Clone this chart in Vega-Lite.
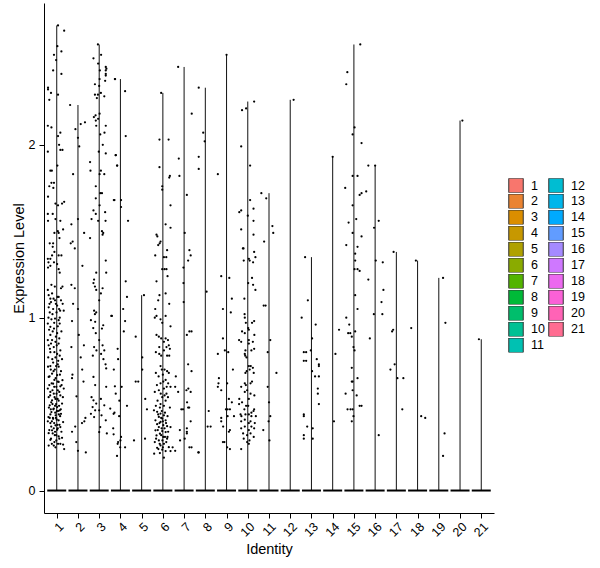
{
  "$schema": "https://vega.github.io/schema/vega-lite/v6.json",
  "description": "Violin plot of expression level by identity, with jittered cells.",
  "width": 450,
  "height": 510,
  "autosize": {"type": "none"},
  "padding": {"left": 44, "top": 3, "right": 106, "bottom": 55},
  "background": "white",
  "config": {
    "view": {"stroke": null},
    "font": "Liberation Sans",
    "axis": {
      "grid": false,
      "domainColor": "black",
      "domainWidth": 1,
      "tickColor": "black",
      "tickWidth": 1,
      "tickSize": 5,
      "labelColor": "black",
      "titleColor": "black",
      "labelFont": "Liberation Sans",
      "titleFont": "Liberation Sans",
      "labelFontSize": 12.5,
      "titleFontSize": 14.5,
      "titleFontWeight": "normal",
      "labelOverlap": false,
      "labelFlush": false
    }
  },
  "datasets": {
    "clusters": [
      {"cluster": 1, "min": 0, "max": 2.69}, {"cluster": 2, "min": 0, "max": 2.23}, {"cluster": 3, "min": 0, "max": 2.58},
      {"cluster": 4, "min": 0, "max": 2.38}, {"cluster": 5, "min": 0, "max": 1.13}, {"cluster": 6, "min": 0, "max": 2.30},
      {"cluster": 7, "min": 0, "max": 2.45}, {"cluster": 8, "min": 0, "max": 2.33}, {"cluster": 9, "min": 0, "max": 2.52},
      {"cluster": 10, "min": 0, "max": 2.25}, {"cluster": 11, "min": 0, "max": 1.72}, {"cluster": 12, "min": 0, "max": 2.26},
      {"cluster": 13, "min": 0, "max": 1.35}, {"cluster": 14, "min": 0, "max": 1.93}, {"cluster": 15, "min": 0, "max": 2.58},
      {"cluster": 16, "min": 0, "max": 1.88}, {"cluster": 17, "min": 0, "max": 1.38}, {"cluster": 18, "min": 0, "max": 1.33},
      {"cluster": 19, "min": 0, "max": 1.23}, {"cluster": 20, "min": 0, "max": 2.14}, {"cluster": 21, "min": 0, "max": 0.875}
    ],
    "cells": [
      {"x":1.06,"y":2.69},{"x":1.35,"y":2.66},{"x":1.03,"y":2.57},{"x":1.22,"y":2.54},{"x":0.87,"y":2.52},{"x":0.97,"y":2.49},{"x":0.83,"y":2.43},{"x":1.22,"y":2.41},{"x":0.59,"y":2.33},{"x":0.59,"y":2.32},{"x":0.73,"y":2.30},{"x":1.06,"y":2.29},{"x":0.65,"y":2.26},{"x":0.58,"y":2.11},{"x":0.75,"y":2.10},{"x":1.06,"y":2.05},{"x":1.17,"y":2.07},{"x":1.11,"y":2.00},{"x":1.27,"y":1.97},{"x":1.17,"y":1.97},{"x":0.58,"y":1.96},{"x":1.03,"y":1.88},{"x":0.70,"y":1.85},{"x":0.77,"y":1.85},{"x":0.87,"y":1.78},{"x":0.75,"y":1.78},{"x":0.65,"y":1.76},{"x":0.84,"y":1.75},{"x":0.59,"y":1.70},{"x":0.94,"y":1.66},{"x":1.25,"y":1.66},{"x":1.06,"y":1.65},{"x":1.35,"y":1.67},{"x":0.58,"y":1.60},{"x":0.81,"y":1.60},{"x":0.94,"y":1.57},{"x":1.17,"y":1.56},{"x":0.59,"y":1.56},{"x":1.05,"y":1.50},{"x":1.09,"y":1.49},{"x":1.30,"y":1.51},{"x":0.89,"y":1.49},{"x":1.13,"y":1.46},
      {"x":0.67,"y":1.43},{"x":0.83,"y":1.43},{"x":0.81,"y":1.41},{"x":0.89,"y":1.38},{"x":0.78,"y":1.36},{"x":1.09,"y":1.36},{"x":1.22,"y":1.36},{"x":0.58,"y":1.34},{"x":0.70,"y":1.34},{"x":0.61,"y":1.32},{"x":0.87,"y":1.32},{"x":1.02,"y":1.31},{"x":0.59,"y":1.29},{"x":0.70,"y":1.30},{"x":1.09,"y":1.28},{"x":1.14,"y":1.26},{"x":0.75,"y":1.19},{"x":0.91,"y":1.18},{"x":0.58,"y":1.16},{"x":1.27,"y":1.18},{"x":1.20,"y":1.17},{"x":0.62,"y":1.13},{"x":0.78,"y":1.14},{"x":0.70,"y":1.11},{"x":0.92,"y":1.10},{"x":1.09,"y":1.12},{"x":1.20,"y":1.10},{"x":1.28,"y":1.08},{"x":1.02,"y":1.07},{"x":0.62,"y":1.06},{"x":0.83,"y":1.05},{"x":1.11,"y":1.05},{"x":1.33,"y":1.04},{"x":0.67,"y":1.03},{"x":0.80,"y":1.02},{"x":0.61,"y":1.00},{"x":0.92,"y":0.995},{"x":1.09,"y":0.985},{"x":1.14,"y":1.00},{"x":0.58,"y":0.966},{"x":0.70,"y":0.947},{"x":0.87,"y":0.937},{"x":1.14,"y":0.966},{"x":1.02,"y":0.91},{"x":0.70,"y":0.90},{"x":0.58,"y":0.87},{"x":0.78,"y":0.87},{"x":0.94,"y":0.86},{"x":0.62,"y":0.84},{"x":0.86,"y":0.83},{"x":1.09,"y":0.85},{"x":1.17,"y":0.81},{"x":1.02,"y":0.79},{"x":0.70,"y":0.80},{"x":0.94,"y":0.77},{"x":1.25,"y":0.76},{"x":0.83,"y":0.74},{"x":1.05,"y":0.73},{"x":0.59,"y":0.716},{"x":0.70,"y":0.72},{"x":0.91,"y":0.70},{"x":1.09,"y":0.716},{"x":1.20,"y":0.69},{"x":0.78,"y":0.676},{"x":1.02,"y":0.667},{"x":0.62,"y":0.657},{"x":0.89,"y":0.64},{"x":1.27,"y":0.638},{"x":1.09,"y":0.628},{"x":0.83,"y":0.618},{"x":0.65,"y":0.61},{"x":0.98,"y":0.60},{"x":1.17,"y":0.603},{"x":1.33,"y":0.59},{"x":0.70,"y":0.57},{"x":0.86,"y":0.56},{"x":1.05,"y":0.58},{"x":1.17,"y":0.55},{"x":0.62,"y":0.54},{"x":0.94,"y":0.53},{"x":0.78,"y":0.522},{"x":1.09,"y":0.52},{"x":1.25,"y":0.503},{"x":0.67,"y":0.493},{"x":1.02,"y":0.483},{"x":0.86,"y":0.474},{"x":1.14,"y":0.464},{"x":0.75,"y":0.454},{"x":1.20,"y":0.444},{"x":0.95,"y":0.435},{"x":0.61,"y":0.425},{"x":0.83,"y":0.415},{"x":1.09,"y":0.406},{"x":1.30,"y":0.396},{"x":0.70,"y":0.39},{"x":0.94,"y":0.377},{"x":1.17,"y":0.367},{"x":1.02,"y":0.352},{"x":0.78,"y":0.348},{"x":0.62,"y":0.332},{"x":0.91,"y":0.32},{"x":1.09,"y":0.313},{"x":1.25,"y":0.305},{"x":0.70,"y":0.293},{"x":0.98,"y":0.29},{"x":1.17,"y":0.27},{"x":1.30,"y":0.266},{"x":0.62,"y":0.26},{"x":0.86,"y":0.26},
      {"x":0.73,"y":1.09},{"x":0.96,"y":1.08},{"x":1.04,"y":1.12},{"x":0.85,"y":1.11},{"x":0.66,"y":1.08},{"x":0.99,"y":1.03},{"x":1.16,"y":1.04},{"x":0.75,"y":0.99},{"x":0.88,"y":0.97},{"x":1.05,"y":0.95},{"x":0.64,"y":0.93},{"x":0.81,"y":0.92},{"x":1.22,"y":0.92},{"x":0.96,"y":0.89},{"x":1.12,"y":0.88},{"x":0.73,"y":0.85},{"x":1.00,"y":0.84},{"x":0.68,"y":0.82},{"x":0.89,"y":0.80},{"x":1.14,"y":0.78},{"x":0.60,"y":0.77},{"x":0.79,"y":0.76},{"x":1.07,"y":0.75},{"x":0.97,"y":0.72},{"x":0.72,"y":0.70},{"x":0.85,"y":0.69},{"x":1.15,"y":0.67},{"x":0.66,"y":0.66},{"x":0.95,"y":0.65},{"x":1.05,"y":0.63},{"x":0.76,"y":0.62},{"x":0.88,"y":0.60},{"x":1.23,"y":0.61},{"x":0.58,"y":0.59},{"x":0.80,"y":0.58},{"x":0.99,"y":0.56},{"x":1.12,"y":0.57},{"x":0.69,"y":0.55},{"x":0.90,"y":0.54},{"x":1.04,"y":0.53},{"x":1.29,"y":0.54},{"x":0.74,"y":0.51},{"x":0.97,"y":0.50},{"x":1.11,"y":0.49},{"x":0.63,"y":0.48},{"x":0.84,"y":0.47},{"x":1.07,"y":0.46},{"x":0.93,"y":0.45},{"x":0.70,"y":0.44},{"x":1.16,"y":0.43},{"x":0.82,"y":0.42},{"x":1.00,"y":0.41},{"x":0.58,"y":0.40},{"x":0.88,"y":0.39},{"x":1.13,"y":0.38},{"x":0.74,"y":0.37},{"x":1.05,"y":0.36},{"x":0.65,"y":0.35},{"x":0.92,"y":0.34},{"x":1.22,"y":0.34},{"x":0.81,"y":0.33},{"x":0.98,"y":0.32},{"x":1.12,"y":0.30},{"x":0.73,"y":0.30},{"x":0.89,"y":0.28},{"x":1.06,"y":0.27},{"x":0.77,"y":0.27},{"x":0.94,"y":0.25},{"x":1.35,"y":0.24},{"x":1.10,"y":0.44},{"x":0.96,"y":0.42},{"x":0.77,"y":0.40},{"x":1.03,"y":0.38},{"x":0.86,"y":0.36},{"x":0.67,"y":0.42},{"x":1.19,"y":0.47},{"x":0.92,"y":0.49},{"x":0.80,"y":0.50},{"x":1.01,"y":0.46},{"x":0.72,"y":0.47},
      {"x":1.63,"y":2.23},{"x":1.88,"y":2.09},{"x":2.13,"y":2.12},{"x":2.33,"y":2.13},{"x":1.77,"y":1.83},{"x":1.69,"y":1.54},{"x":2.29,"y":1.49},{"x":2.00,"y":1.57},{"x":2.00,"y":2.04},{"x":2.06,"y":1.99},{"x":2.57,"y":1.46},{"x":2.57,"y":1.90},{"x":2.59,"y":1.85},
      {"x":1.66,"y":1.43},{"x":1.75,"y":1.44},{"x":1.85,"y":1.40},{"x":2.21,"y":1.30},{"x":1.69,"y":1.19},{"x":1.85,"y":1.17},{"x":1.77,"y":1.08},{"x":2.00,"y":1.05},{"x":1.72,"y":0.98},{"x":2.04,"y":0.90},{"x":2.28,"y":0.84},{"x":1.69,"y":0.83},{"x":2.13,"y":0.77},{"x":2.20,"y":0.70},{"x":1.74,"y":0.67},{"x":1.72,"y":0.65},{"x":2.26,"y":0.63},{"x":1.93,"y":0.545},{"x":1.87,"y":0.37},{"x":1.72,"y":0.34},{"x":2.19,"y":0.39},{"x":2.30,"y":0.40},{"x":2.35,"y":0.42},{"x":1.92,"y":0.28},{"x":2.00,"y":0.23},{"x":2.37,"y":0.22},
      {"x":2.94,"y":2.58},{"x":3.09,"y":2.52},{"x":2.73,"y":2.50},{"x":2.95,"y":2.47},{"x":3.31,"y":2.45},{"x":3.34,"y":2.44},{"x":3.31,"y":2.43},{"x":3.31,"y":2.41},{"x":3.31,"y":2.40},{"x":3.03,"y":2.43},{"x":3.02,"y":2.38},{"x":2.80,"y":2.35},{"x":3.28,"y":2.37},{"x":3.74,"y":2.38},{"x":3.00,"y":2.34},{"x":3.08,"y":2.30},{"x":2.94,"y":2.29},{"x":2.80,"y":2.29},{"x":3.24,"y":2.28},{"x":2.89,"y":2.27},{"x":3.02,"y":2.18},{"x":2.83,"y":2.17},{"x":2.75,"y":2.16},{"x":2.95,"y":2.15},{"x":2.84,"y":2.14},{"x":2.86,"y":2.11},{"x":3.31,"y":2.11},{"x":3.05,"y":2.06},{"x":3.25,"y":2.07},{"x":3.17,"y":2.00},{"x":2.98,"y":1.96},{"x":3.31,"y":1.95},{"x":3.78,"y":1.94},{"x":3.85,"y":1.88},{"x":3.08,"y":1.85},{"x":3.24,"y":1.83},{"x":3.02,"y":1.83},{"x":2.84,"y":1.76},{"x":3.05,"y":1.72},{"x":3.13,"y":1.72},{"x":2.84,"y":1.69},{"x":3.02,"y":1.65},{"x":3.69,"y":1.68},{"x":4.03,"y":1.64},{"x":2.73,"y":1.62},{"x":2.84,"y":1.60},{"x":3.28,"y":1.61},{"x":2.64,"y":1.57},{"x":2.95,"y":1.56},{"x":3.30,"y":1.56},{"x":3.13,"y":1.50},{"x":3.19,"y":1.49},{"x":3.16,"y":1.48},
      {"x":3.31,"y":1.33},{"x":3.33,"y":1.26},{"x":2.86,"y":1.26},{"x":2.76,"y":1.22},{"x":2.73,"y":1.20},{"x":2.80,"y":1.18},{"x":2.86,"y":1.16},{"x":3.16,"y":1.17},{"x":3.08,"y":1.14},{"x":3.00,"y":1.10},{"x":2.76,"y":1.04},{"x":2.86,"y":1.03},{"x":2.80,"y":1.02},{"x":3.57,"y":1.01},{"x":2.61,"y":0.985},{"x":2.81,"y":0.976},{"x":2.72,"y":0.94},{"x":2.84,"y":0.91},{"x":3.19,"y":0.956},{"x":3.13,"y":0.937},{"x":2.76,"y":0.83},{"x":2.87,"y":0.81},{"x":2.70,"y":0.78},{"x":3.00,"y":0.87},{"x":3.16,"y":0.84},{"x":3.24,"y":0.81},{"x":3.09,"y":0.79},{"x":3.20,"y":0.76},{"x":3.89,"y":0.76},{"x":3.30,"y":0.73},{"x":3.33,"y":0.706},{"x":2.73,"y":0.657},{"x":2.81,"y":0.61},{"x":3.33,"y":0.60},{"x":3.74,"y":0.603},{"x":2.64,"y":0.54},{"x":2.73,"y":0.522},{"x":2.86,"y":0.503},{"x":2.69,"y":0.483},{"x":2.81,"y":0.464},{"x":2.61,"y":0.444},{"x":2.76,"y":0.425},{"x":3.08,"y":0.53},{"x":3.24,"y":0.493},{"x":3.00,"y":0.464},{"x":3.11,"y":0.435},{"x":3.31,"y":0.406},{"x":3.52,"y":0.474},{"x":3.68,"y":0.444},{"x":3.05,"y":0.367},{"x":3.00,"y":0.338},{"x":3.36,"y":0.33},{"x":3.68,"y":0.325},{"x":3.89,"y":0.28},{"x":3.99,"y":0.25},
      {"x":3.75,"y":2.38},{"x":4.22,"y":2.31},{"x":4.25,"y":2.05},{"x":3.78,"y":1.94},{"x":3.84,"y":1.88},{"x":3.72,"y":1.68},{"x":4.03,"y":1.68},{"x":4.36,"y":1.56},{"x":4.25,"y":1.21},{"x":4.31,"y":1.12},{"x":4.13,"y":1.05},{"x":3.60,"y":1.01},{"x":4.22,"y":0.98},{"x":4.16,"y":0.92},{"x":4.72,"y":0.89},{"x":3.87,"y":0.82},{"x":3.69,"y":0.70},{"x":3.78,"y":0.56},{"x":4.06,"y":0.60},{"x":3.95,"y":0.52},{"x":4.31,"y":0.49},{"x":3.72,"y":0.45},{"x":3.94,"y":0.43},{"x":3.66,"y":0.36},{"x":4.03,"y":0.31},{"x":4.00,"y":0.29},{"x":3.87,"y":0.27},{"x":4.22,"y":0.25},{"x":3.84,"y":0.20},{"x":4.64,"y":0.29},
      {"x":5.11,"y":1.13},{"x":5.03,"y":0.77},{"x":5.03,"y":0.70},{"x":4.72,"y":0.63},{"x":4.84,"y":0.63},{"x":5.17,"y":0.53},{"x":5.25,"y":0.47},{"x":5.16,"y":0.30},
      {"x":5.92,"y":2.30},{"x":5.84,"y":2.03},{"x":6.27,"y":2.03},{"x":5.84,"y":1.87},{"x":6.30,"y":1.81},{"x":6.33,"y":1.82},{"x":5.97,"y":1.76},{"x":5.97,"y":1.74},{"x":6.36,"y":1.65},{"x":6.13,"y":1.54},{"x":6.36,"y":1.52},{"x":5.70,"y":1.48},{"x":5.74,"y":1.47},{"x":5.85,"y":1.43},{"x":5.78,"y":1.42},{"x":5.89,"y":1.44},{"x":6.20,"y":1.39},{"x":5.64,"y":1.36},{"x":6.05,"y":1.35},{"x":6.16,"y":1.35},{"x":5.97,"y":1.28},{"x":6.08,"y":1.28},{"x":6.17,"y":1.28},{"x":6.22,"y":1.24},{"x":5.70,"y":1.21},{"x":6.13,"y":1.14},{"x":5.84,"y":1.13},{"x":5.78,"y":1.10},{"x":6.30,"y":1.08},{"x":5.64,"y":1.05},{"x":5.70,"y":1.01},{"x":5.62,"y":1.00},{"x":5.89,"y":0.99},{"x":5.97,"y":0.97},{"x":6.13,"y":1.01},{"x":6.36,"y":0.95},{"x":5.70,"y":0.90},{"x":5.81,"y":0.89},{"x":5.92,"y":0.88},{"x":6.13,"y":0.88},{"x":6.24,"y":0.87},{"x":6.05,"y":0.86},{"x":6.28,"y":0.84},{"x":6.17,"y":0.83},{"x":6.33,"y":0.82},{"x":6.05,"y":0.81},{"x":5.83,"y":0.83},{"x":5.83,"y":0.79},{"x":5.67,"y":0.80},{"x":5.92,"y":0.78},{"x":6.20,"y":0.78},{"x":6.30,"y":0.78},{"x":5.89,"y":0.72},{"x":6.08,"y":0.70},{"x":6.20,"y":0.69},{"x":6.28,"y":0.68},{"x":6.00,"y":0.67},{"x":5.67,"y":0.68},{"x":6.13,"y":0.64},{"x":5.89,"y":0.62},{"x":6.25,"y":0.62},{"x":6.36,"y":0.60},{"x":6.05,"y":0.59},{"x":5.81,"y":0.58},{"x":5.62,"y":0.57},{"x":6.17,"y":0.56},{"x":5.97,"y":0.54},{"x":6.24,"y":0.54},{"x":5.75,"y":0.52},{"x":6.13,"y":0.52},{"x":5.89,"y":0.50},{"x":5.67,"y":0.49},{"x":6.05,"y":0.49},{"x":5.86,"y":0.48},{"x":6.33,"y":0.48},
      {"x":5.58,"y":0.464},{"x":5.73,"y":0.455},{"x":5.89,"y":0.445},{"x":6.05,"y":0.435},{"x":5.81,"y":0.426},{"x":5.97,"y":0.416},{"x":5.65,"y":0.406},{"x":6.13,"y":0.406},{"x":5.89,"y":0.397},{"x":5.73,"y":0.384},{"x":6.02,"y":0.378},{"x":6.20,"y":0.372},{"x":5.81,"y":0.367},{"x":6.36,"y":0.367},{"x":5.65,"y":0.348},{"x":5.97,"y":0.344},{"x":6.13,"y":0.338},{"x":5.86,"y":0.329},{"x":5.70,"y":0.319},{"x":6.02,"y":0.31},{"x":6.20,"y":0.30},{"x":5.81,"y":0.29},{"x":5.62,"y":0.28},{"x":6.05,"y":0.27},{"x":5.89,"y":0.261},{"x":6.28,"y":0.251},{"x":5.73,"y":0.247},{"x":5.97,"y":0.236},{"x":6.13,"y":0.228},{"x":5.86,"y":0.217},{"x":5.59,"y":0.213},{"x":6.36,"y":0.228},{"x":6.05,"y":0.19},
      {"x":5.95,"y":0.46},{"x":6.10,"y":0.45},{"x":5.78,"y":0.44},{"x":6.22,"y":0.43},{"x":5.92,"y":0.42},{"x":6.00,"y":0.40},{"x":5.84,"y":0.39},{"x":6.15,"y":0.39},{"x":5.94,"y":0.36},{"x":6.08,"y":0.36},{"x":5.76,"y":0.35},{"x":6.25,"y":0.34},{"x":5.92,"y":0.32},{"x":6.10,"y":0.31},{"x":5.68,"y":0.30},{"x":5.98,"y":0.29},{"x":6.16,"y":0.28},{"x":5.85,"y":0.27},{"x":6.00,"y":0.25},{"x":5.79,"y":0.24},{"x":6.22,"y":0.31},{"x":5.90,"y":0.56},{"x":6.08,"y":0.55},{"x":5.72,"y":0.61},{"x":6.02,"y":0.63},{"x":5.95,"y":0.70},{"x":5.80,"y":0.66},{"x":6.18,"y":0.60},
      {"x":6.61,"y":0.66},{"x":6.72,"y":0.57},{"x":6.58,"y":0.60},{"x":6.80,"y":0.35},{"x":6.58,"y":0.23},{"x":6.46,"y":0.25},
      {"x":6.72,"y":2.45},{"x":7.36,"y":2.18},{"x":6.75,"y":1.92},{"x":6.78,"y":1.82},{"x":7.13,"y":1.71},{"x":7.03,"y":1.49},{"x":7.25,"y":1.39},{"x":7.31,"y":1.36},{"x":7.19,"y":1.33},{"x":6.97,"y":1.29},{"x":6.97,"y":1.20},{"x":6.98,"y":1.09},{"x":7.25,"y":0.92},{"x":7.35,"y":0.92},{"x":7.13,"y":0.90},{"x":7.19,"y":0.73},{"x":7.35,"y":0.69},{"x":7.20,"y":0.59},{"x":7.31,"y":0.57},{"x":7.11,"y":0.58},{"x":7.14,"y":0.51},{"x":7.24,"y":0.48},{"x":7.19,"y":0.48},{"x":6.95,"y":0.47},{"x":6.87,"y":0.47},{"x":7.31,"y":0.40},{"x":7.13,"y":0.36},{"x":7.13,"y":0.34},{"x":7.13,"y":0.33},{"x":7.03,"y":0.30},{"x":7.25,"y":0.25},{"x":7.35,"y":0.25},{"x":7.67,"y":0.22},{"x":6.81,"y":0.29},
      {"x":7.69,"y":2.33},{"x":7.90,"y":2.07},{"x":7.97,"y":2.02},{"x":7.69,"y":1.93},{"x":7.69,"y":1.86},{"x":8.06,"y":1.15},{"x":8.16,"y":0.46},{"x":8.11,"y":0.37},{"x":8.25,"y":0.37},{"x":7.69,"y":0.22},
      {"x":9.00,"y":2.52},{"x":8.59,"y":1.83},{"x":8.75,"y":1.24},{"x":9.13,"y":1.23},{"x":9.25,"y":1.11},{"x":8.83,"y":1.05},{"x":9.20,"y":1.03},{"x":8.83,"y":0.88},{"x":8.92,"y":0.81},{"x":9.08,"y":0.80},{"x":8.59,"y":0.79},{"x":9.30,"y":0.70},{"x":8.64,"y":0.65},{"x":8.62,"y":0.62},{"x":8.59,"y":0.60},{"x":8.75,"y":0.58},{"x":9.03,"y":0.62},{"x":9.11,"y":0.53},{"x":9.25,"y":0.51},{"x":8.97,"y":0.47},{"x":9.05,"y":0.47},{"x":9.16,"y":0.47},{"x":8.75,"y":0.42},{"x":8.75,"y":0.40},{"x":9.05,"y":0.43},{"x":9.35,"y":0.43},{"x":8.84,"y":0.37},{"x":9.16,"y":0.35},{"x":9.11,"y":0.34},{"x":8.83,"y":0.28},{"x":8.90,"y":0.28},{"x":9.03,"y":0.25},{"x":9.16,"y":0.24},{"x":9.69,"y":0.24},
      {"x":10.30,"y":2.25},{"x":9.73,"y":2.20},{"x":9.92,"y":2.21},{"x":9.69,"y":1.99},{"x":10.11,"y":1.88},{"x":10.11,"y":1.68},{"x":9.60,"y":1.61},{"x":9.69,"y":1.62},{"x":10.00,"y":1.59},{"x":10.27,"y":1.63},{"x":10.27,"y":1.56},{"x":9.69,"y":1.51},{"x":10.27,"y":1.48},{"x":9.77,"y":1.40},{"x":9.80,"y":1.40},{"x":10.30,"y":1.38},{"x":10.36,"y":1.35},{"x":10.25,"y":1.32},{"x":10.05,"y":1.34},{"x":10.09,"y":1.33},{"x":9.81,"y":1.33},{"x":10.20,"y":1.23},{"x":10.02,"y":1.20},{"x":10.25,"y":1.19},{"x":10.36,"y":1.16},{"x":9.84,"y":1.11},{"x":9.85,"y":1.02},{"x":9.86,"y":1.00},{"x":9.91,"y":0.97},{"x":10.02,"y":0.94},{"x":10.05,"y":0.93},{"x":10.20,"y":0.97},{"x":10.30,"y":0.98},{"x":9.73,"y":0.92},{"x":9.86,"y":0.91},{"x":9.59,"y":0.87},{"x":9.69,"y":0.86},{"x":10.05,"y":0.87},{"x":10.24,"y":0.86},{"x":10.31,"y":0.90},{"x":10.05,"y":0.85},{"x":9.89,"y":0.81},{"x":9.86,"y":0.79},{"x":9.88,"y":0.78},{"x":10.17,"y":0.81},{"x":10.30,"y":0.82},{"x":9.94,"y":0.77},{"x":10.14,"y":0.72},{"x":10.24,"y":0.71},{"x":10.05,"y":0.72},{"x":9.95,"y":0.69},{"x":9.89,"y":0.68},{"x":10.28,"y":0.68},{"x":10.09,"y":0.70},{"x":10.20,"y":0.63},{"x":10.13,"y":0.62},{"x":9.86,"y":0.62},{"x":9.91,"y":0.61},{"x":9.69,"y":0.60},{"x":9.97,"y":0.58},{"x":9.86,"y":0.57},{"x":10.13,"y":0.56},{"x":10.31,"y":0.55},{"x":10.05,"y":0.53},{"x":9.60,"y":0.53},{"x":9.73,"y":0.51},{"x":9.59,"y":0.50},{"x":9.92,"y":0.49},{"x":10.02,"y":0.49},{"x":10.30,"y":0.47},{"x":10.17,"y":0.45},{"x":10.27,"y":0.46},{"x":9.84,"y":0.47},{"x":9.66,"y":0.44},{"x":9.70,"y":0.43},{"x":9.89,"y":0.44},{"x":10.05,"y":0.44},{"x":10.17,"y":0.43},{"x":10.38,"y":0.43},{"x":9.86,"y":0.41},{"x":10.13,"y":0.40},{"x":10.05,"y":0.39},{"x":10.33,"y":0.39},{"x":9.69,"y":0.40},{"x":9.86,"y":0.37},{"x":9.69,"y":0.36},{"x":10.05,"y":0.35},{"x":10.17,"y":0.37},{"x":10.30,"y":0.36},{"x":9.78,"y":0.33},{"x":9.97,"y":0.32},{"x":10.13,"y":0.33},{"x":10.28,"y":0.31},{"x":9.81,"y":0.30},{"x":10.08,"y":0.29},{"x":9.97,"y":0.28},{"x":10.05,"y":0.27},
      {"x":10.64,"y":1.72},{"x":10.87,"y":1.69},{"x":11.16,"y":1.53},{"x":11.20,"y":1.49},{"x":10.77,"y":1.44},{"x":10.75,"y":1.07},{"x":10.84,"y":1.07},{"x":11.06,"y":0.87},{"x":10.94,"y":0.80},{"x":11.35,"y":0.68},{"x":10.94,"y":0.60},{"x":11.00,"y":0.51},{"x":11.06,"y":0.43},{"x":10.98,"y":0.40},{"x":10.73,"y":0.35},{"x":11.02,"y":0.29},
      {"x":12.16,"y":2.26},
      {"x":12.70,"y":1.35},{"x":12.83,"y":1.10},{"x":12.54,"y":1.00},{"x":13.20,"y":0.96},{"x":13.03,"y":0.88},{"x":12.64,"y":0.80},{"x":12.75,"y":0.80},{"x":12.64,"y":0.75},{"x":12.75,"y":0.75},{"x":12.97,"y":0.81},{"x":13.25,"y":0.76},{"x":13.35,"y":0.73},{"x":13.35,"y":0.72},{"x":13.03,"y":0.69},{"x":13.17,"y":0.66},{"x":13.35,"y":0.66},{"x":13.30,"y":0.59},{"x":13.30,"y":0.56},{"x":13.35,"y":0.50},{"x":12.64,"y":0.44},{"x":12.64,"y":0.43},{"x":12.80,"y":0.37},{"x":13.06,"y":0.36},{"x":12.64,"y":0.32},{"x":12.64,"y":0.30},{"x":13.06,"y":0.30},
      {"x":14.00,"y":1.93},{"x":14.13,"y":0.79},{"x":14.06,"y":0.40},
      {"x":15.30,"y":2.58},{"x":14.69,"y":2.42},{"x":14.64,"y":2.35},{"x":15.03,"y":2.10},{"x":14.94,"y":2.06},{"x":15.36,"y":2.01},{"x":15.68,"y":1.88},{"x":14.94,"y":1.82},{"x":15.17,"y":1.82},{"x":14.59,"y":1.75},{"x":15.27,"y":1.71},{"x":15.36,"y":1.72},{"x":15.58,"y":1.73},{"x":14.94,"y":1.65},{"x":15.11,"y":1.57},{"x":14.75,"y":1.55},{"x":14.94,"y":1.49},{"x":15.36,"y":1.47},{"x":14.64,"y":1.42},{"x":15.17,"y":1.41},{"x":15.06,"y":1.37},{"x":15.06,"y":1.33},{"x":15.03,"y":1.28},{"x":15.17,"y":1.28},{"x":15.27,"y":1.27},{"x":15.68,"y":1.22},{"x":15.06,"y":1.13},{"x":15.17,"y":1.05},{"x":14.64,"y":1.00},{"x":14.78,"y":0.96},{"x":14.30,"y":0.93},{"x":14.73,"y":0.91},{"x":14.83,"y":0.91},{"x":15.06,"y":0.92},{"x":14.90,"y":0.89},{"x":14.98,"y":0.83},{"x":15.03,"y":0.81},{"x":14.90,"y":0.71},{"x":15.17,"y":0.65},{"x":14.90,"y":0.63},{"x":14.94,"y":0.63},{"x":14.94,"y":0.58},{"x":14.61,"y":0.56},{"x":15.13,"y":0.55},{"x":15.27,"y":0.49},{"x":15.36,"y":0.49},{"x":14.70,"y":0.47},{"x":14.84,"y":0.47},{"x":14.94,"y":0.47},{"x":14.98,"y":0.43},{"x":14.90,"y":0.40},
      {"x":16.00,"y":1.88},{"x":16.17,"y":1.56},{"x":15.95,"y":1.52},{"x":16.03,"y":1.33},{"x":16.36,"y":1.32},{"x":16.39,"y":1.16},{"x":16.30,"y":1.09},{"x":16.34,"y":1.02},{"x":15.94,"y":1.02},{"x":15.75,"y":0.88},{"x":16.17,"y":0.32},
      {"x":16.87,"y":1.38},{"x":16.85,"y":0.93},{"x":16.80,"y":0.92},{"x":16.92,"y":0.73},{"x":16.72,"y":0.70},{"x":17.05,"y":0.65},{"x":17.33,"y":0.65},{"x":17.28,"y":0.47},
      {"x":17.92,"y":1.33},{"x":17.70,"y":0.94},{"x":18.17,"y":0.43},{"x":18.36,"y":0.42},
      {"x":19.20,"y":1.23},{"x":19.31,"y":0.97},{"x":19.27,"y":0.33},{"x":19.20,"y":0.20},
      {"x":20.11,"y":2.14},
      {"x":20.89,"y":0.875}
    ]
  },
  "layer": [
    {
      "data": {"name": "clusters"},
      "mark": {"type": "rule", "color": "#111111", "strokeWidth": 1},
      "encoding": {
        "x": {
          "field": "cluster",
          "type": "quantitative",
          "title": "Identity",
          "scale": {"domain": [0.4, 21.6], "nice": false, "zero": false},
          "axis": {
            "values": [1, 2, 3, 4, 5, 6, 7, 8, 9, 10, 11, 12, 13, 14, 15, 16, 17, 18, 19, 20, 21],
            "tickCount": 30,
            "format": "d",
            "labelAngle": -45,
            "labelAlign": "right",
            "labelBaseline": "top",
            "labelOverlap": false,
            "labelPadding": 2,
            "titlePadding": 4
          }
        },
        "y": {
          "field": "min",
          "type": "quantitative",
          "title": "Expression Level",
          "scale": {"domain": [-0.13, 2.82], "nice": false, "zero": false},
          "axis": {"values": [0, 1, 2], "tickCount": 5, "format": "d", "labelPadding": 4, "titlePadding": 2}
        },
        "y2": {"field": "max"}
      }
    },
    {
      "data": {"name": "clusters"},
      "mark": {"type": "tick", "orient": "horizontal", "size": 19, "thickness": 2, "color": "black", "opacity": 1},
      "encoding": {
        "x": {"field": "cluster", "type": "quantitative", "title": "Identity"},
        "y": {"field": "min", "type": "quantitative", "title": "Expression Level"}
      }
    },
    {
      "data": {"name": "clusters"},
      "mark": {"type": "square", "opacity": 0},
      "encoding": {
        "x": {"field": "cluster", "type": "quantitative", "title": "Identity"},
        "y": {"field": "min", "type": "quantitative", "title": "Expression Level"},
        "color": {
          "field": "cluster",
          "type": "nominal",
          "scale": {
            "domain": [1, 2, 3, 4, 5, 6, 7, 8, 9, 10, 11, 12, 13, 14, 15, 16, 17, 18, 19, 20, 21],
            "range": ["#F8766D", "#EA8331", "#DB8E00", "#C79800", "#AFA100", "#8AAB00", "#53B400", "#00BA38", "#00BE6C", "#00C094", "#00C1B2", "#00BDD2", "#00B6EB", "#00AAFE", "#619CFF", "#A58AFF", "#CF78FF", "#EC69EF", "#FB61D7", "#FF63B6", "#FF6C91"]
          },
          "legend": {
            "title": null,
            "orient": "none",
            "legendX": 464,
            "legendY": 175,
            "columns": 2,
            "columnPadding": 3,
            "rowPadding": 1,
            "clipHeight": 14.5,
            "symbolType": "square",
            "symbolSize": 210,
            "symbolOpacity": 1,
            "symbolStrokeColor": "#333333",
            "symbolStrokeWidth": 1,
            "labelFont": "Liberation Sans",
            "labelFontSize": 12.5,
            "labelColor": "black",
            "labelOffset": 7
          }
        }
      }
    },
    {
      "data": {"name": "cells"},
      "mark": {"type": "circle", "color": "black", "size": 5, "opacity": 1},
      "encoding": {
        "x": {"field": "x", "type": "quantitative", "title": "Identity"},
        "y": {"field": "y", "type": "quantitative", "title": "Expression Level"}
      }
    }
  ]
}
